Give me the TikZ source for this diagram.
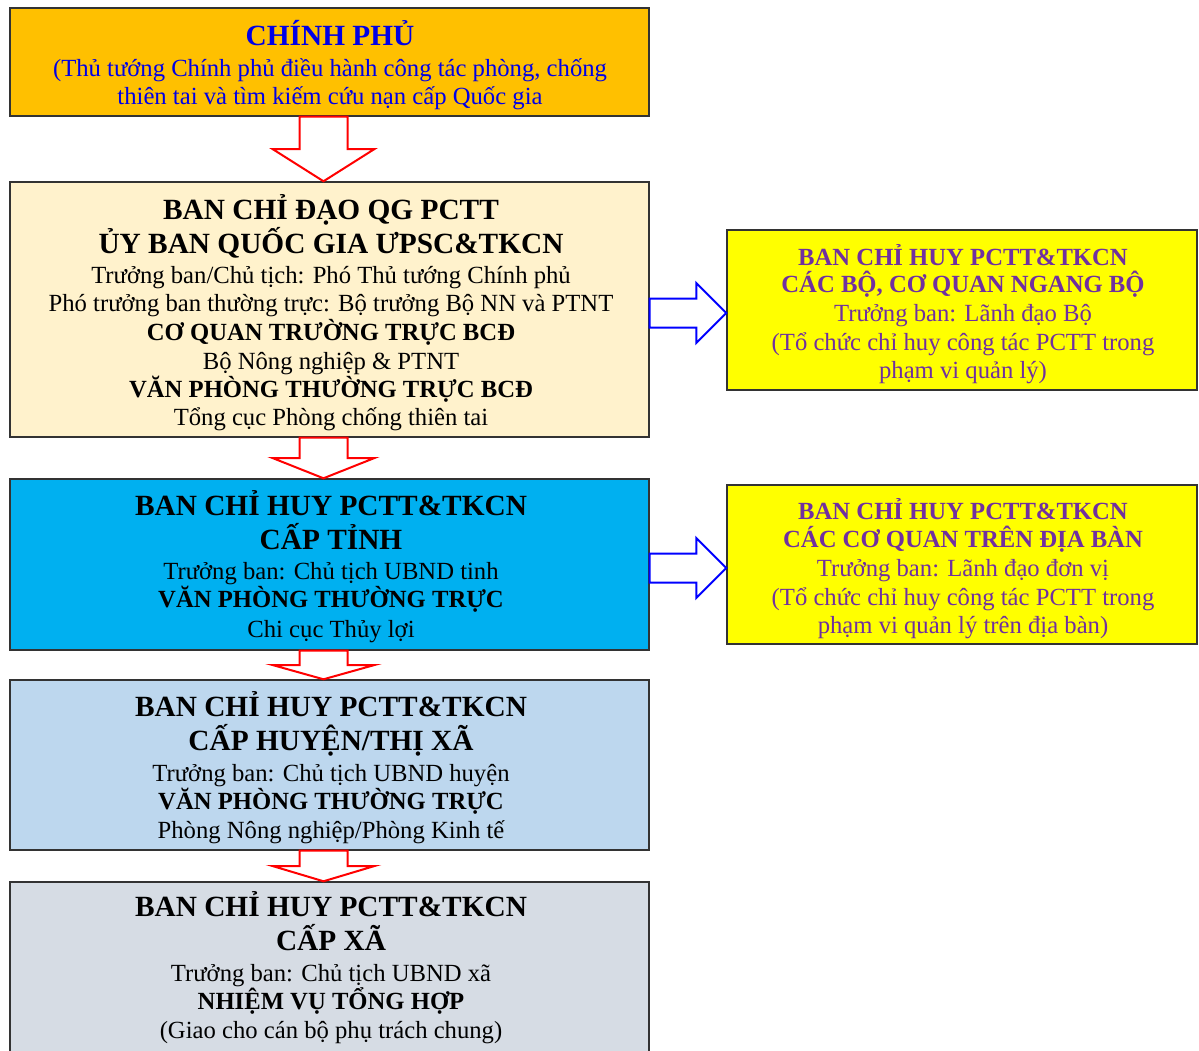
\documentclass[tikz,border=0pt]{standalone}
\usepackage{fontspec}
\setmainfont{Liberation Serif}
\usetikzlibrary{calc}
\definecolor{corange}{HTML}{FFC000}
\definecolor{ccream}{HTML}{FFF2CC}
\definecolor{ccyan}{HTML}{00B0F0}
\definecolor{clblue}{HTML}{BDD7EE}
\definecolor{cgray}{HTML}{D6DCE4}
\definecolor{cyell}{HTML}{FFFF00}
\definecolor{cpurp}{HTML}{7030A0}
\definecolor{cbtxt}{HTML}{0000E6}
\definecolor{cedge}{HTML}{333333}
\definecolor{carrowb}{HTML}{0000FF}
\definecolor{carrowr}{HTML}{FF0000}
\begin{document}
\begin{tikzpicture}[x=0.75pt,y=-0.75pt,
  box/.style={draw=cedge,line width=1.1pt,minimum width=479.25pt,inner sep=0pt},
  rbox/.style={draw=cedge,line width=1.1pt,minimum width=352.5pt,inner sep=0pt},
  tb/.style={anchor=base,inner sep=0pt,font=\fontsize{22}{26}\selectfont\bfseries},
  sb/.style={anchor=base,inner sep=0pt,font=\fontsize{18.5}{22}\selectfont\bfseries},
  nb/.style={anchor=base,inner sep=0pt,font=\fontsize{18.5}{22}\selectfont},
  redarr/.style={draw=carrowr,fill=white,line width=1.5pt,line join=miter},
  bluearr/.style={draw=carrowb,fill=white,line width=1.5pt,line join=miter}]
\useasboundingbox (0,0) rectangle (1199,1050);
\fill[white] (0,0) rectangle (1199,1050);

% boxes
\node[box,fill=corange,minimum height=81pt] (b1) at (329.5,62) {};
\node[box,fill=ccream,minimum height=191.25pt] (b2) at (329.5,309.5) {};
\node[box,fill=ccyan,minimum height=128.25pt] (b3) at (329.5,564.5) {};
\node[box,fill=clblue,minimum height=127.5pt] (b4) at (329.5,765) {};
\node[box,fill=cgray,minimum height=133.5pt] (b5) at (329.5,971) {};
\node[rbox,fill=cyell,minimum height=120pt] (ra) at (962,310) {};
\node[rbox,fill=cyell,minimum height=119.25pt] (rb) at (962,564.5) {};

% red down arrows
\newcommand\redblock[2]{%
  \coordinate (m) at ($(#1.south)!0.5!(#2.north)$);
  \draw[redarr] ($(#1.south)+(-30,0)$) -- ($(m)+(-30,0)$) -- ($(m)+(-57,0)$)
    -- ($(#2.north)+(-6,0)$) -- ($(m)+(45,0)$) -- ($(m)+(18,0)$)
    -- ($(#1.south)+(18,0)$) -- cycle;}
\redblock{b1}{b2}
\redblock{b2}{b3}
\redblock{b3}{b4}
\redblock{b4}{b5}

% blue right arrows (#3 = vertical offset of the arrow axis)
\newcommand\blueblock[3]{%
  \coordinate (t) at ($(#2.west)+(0,#3)$);
  \coordinate (s) at (#1.east |- t);
  \draw[bluearr] ($(s)+(0,-14.5)$) -- ($(t)+(-30,-14.5)$)
    -- ($(t)+(-30,-30)$) -- (t) -- ($(t)+(-30,30)$)
    -- ($(t)+(-30,14.5)$) -- ($(s)+(0,14.5)$) -- cycle;}
\blueblock{b2}{ra}{3}
\blueblock{b3}{rb}{3.5}

% box 1 text
\node[tb,text=cbtxt] (b1l1) at (330,45) {CHÍNH PHỦ};
\node[nb,text=cbtxt] (b1l2) at (330,76) {(Thủ tướng Chính phủ điều hành công tác phòng, chống};
\node[nb,text=cbtxt] (b1l3) at (330,104) {thiên tai và tìm kiếm cứu nạn cấp Quốc gia};

% box 2 text
\node[tb] (b2l1) at (331,219) {BAN CHỈ ĐẠO QG PCTT};
\node[tb] (b2l2) at (331,253) {ỦY BAN QUỐC GIA ƯPSC\&TKCN};
\node[nb] (b2l3) at (331,283) {Trưởng ban/Chủ tịch: Phó Thủ tướng Chính phủ};
\node[nb] (b2l4) at (331,311) {Phó trưởng ban thường trực: Bộ trưởng Bộ NN và PTNT};
\node[sb] (b2l5) at (331,340) {CƠ QUAN TRƯỜNG TRỰC BCĐ};
\node[nb] (b2l6) at (331,369) {Bộ Nông nghiệp \& PTNT};
\node[sb] (b2l7) at (331,397) {VĂN PHÒNG THƯỜNG TRỰC BCĐ};
\node[nb] (b2l8) at (331,425) {Tổng cục Phòng chống thiên tai};

% box 3 text
\node[tb] (b3l1) at (331,515) {BAN CHỈ HUY PCTT\&TKCN};
\node[tb] (b3l2) at (331,549) {CẤP TỈNH};
\node[nb] (b3l3) at (331,579) {Trưởng ban: Chủ tịch UBND tinh};
\node[sb] (b3l4) at (331,607) {VĂN PHÒNG THƯỜNG TRỰC};
\node[nb] (b3l5) at (331,637) {Chi cục Thủy lợi};

% box 4 text
\node[tb] (b4l1) at (331,716) {BAN CHỈ HUY PCTT\&TKCN};
\node[tb] (b4l2) at (331,750) {CẤP HUYỆN/THỊ XÃ};
\node[nb] (b4l3) at (331,781) {Trưởng ban: Chủ tịch UBND huyện};
\node[sb] (b4l4) at (331,809) {VĂN PHÒNG THƯỜNG TRỰC};
\node[nb] (b4l5) at (331,838) {Phòng Nông nghiệp/Phòng Kinh tế};

% box 5 text
\node[tb] (b5l1) at (331,916) {BAN CHỈ HUY PCTT\&TKCN};
\node[tb] (b5l2) at (331,950) {CẤP XÃ};
\node[nb] (b5l3) at (331,981) {Trưởng ban: Chủ tịch UBND xã};
\node[sb] (b5l4) at (331,1009) {NHIỆM VỤ TỔNG HỢP};
\node[nb] (b5l5) at (331,1038) {(Giao cho cán bộ phụ trách chung)};

% right box A text
\node[sb,text=cpurp] (ral1) at (963,265) {BAN CHỈ HUY PCTT\&TKCN};
\node[sb,text=cpurp] (ral2) at (963,292) {CÁC BỘ, CƠ QUAN NGANG BỘ};
\node[nb,text=cpurp] (ral3) at (963,321) {Trưởng ban: Lãnh đạo Bộ};
\node[nb,text=cpurp] (ral4) at (963,350) {(Tổ chức chỉ huy công tác PCTT trong};
\node[nb,text=cpurp] (ral5) at (963,378) {phạm vi quản lý)};

% right box B text
\node[sb,text=cpurp] (rbl1) at (963,519) {BAN CHỈ HUY PCTT\&TKCN};
\node[sb,text=cpurp] (rbl2) at (963,547) {CÁC CƠ QUAN TRÊN ĐỊA BÀN};
\node[nb,text=cpurp] (rbl3) at (963,576) {Trưởng ban: Lãnh đạo đơn vị};
\node[nb,text=cpurp] (rbl4) at (963,605) {(Tổ chức chỉ huy công tác PCTT trong};
\node[nb,text=cpurp] (rbl5) at (963,633) {phạm vi quản lý trên địa bàn)};
\end{tikzpicture}
\end{document}
